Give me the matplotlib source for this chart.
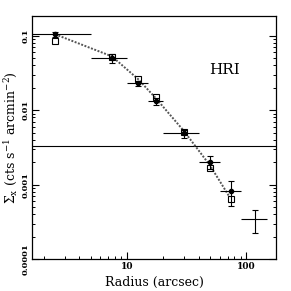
import matplotlib
matplotlib.use("Agg")
import matplotlib.pyplot as plt
import numpy as np

# surface brightness profile, HRI
radius = [2.5, 7.5, 12.5, 17.5, 30, 50, 75]
r_lo = [0.0, 5, 10, 15, 20, 40, 60]
r_hi = [5, 10, 15, 20, 40, 60, 90]
sb_filled = [0.105, 0.050, 0.023, 0.0133, 0.0049, 0.00204, 0.00082]
sb_filled_err = [0.008, 0.007, 0.002, 0.0015, 0.0006, 0.0004, 0.0003]
sb_open = [0.086, 0.052, 0.026, 0.0149, 0.0051, 0.00168, 0.00064]

# background point
bkg_r = [120]
bkg_lo = [90]
bkg_hi = [150]
bkg_sb = [0.00034]
bkg_err = [0.000116]
bkg_level = 0.0033

# model curve (dotted)
model_r = [2.5, 7.5, 12.5, 17.5, 30, 50, 72]
model_sb = [0.105, 0.053, 0.026, 0.0145, 0.0053, 0.0018, 0.00070]

plt.rcParams["font.family"] = "DejaVu Serif"
plt.rcParams["mathtext.fontset"] = "dejavuserif"

fig = plt.figure(figsize=(2.91, 2.91), dpi=100)
ax = fig.add_axes([0.110, 0.110, 0.838, 0.835])

r = np.array(radius, dtype=float)
lo = r - np.array(r_lo)
lo = np.where(np.array(r_lo) == 0, r - 1.0, lo)
hi = np.array(r_hi) - r

ax.axhline(bkg_level, color="black", lw=0.8)
ax.plot(model_r, model_sb, color="#555555", ls=(0, (1, 0.8)), lw=1.4)
# horizontal bins (no caps), vertical errors (capped)
ax.errorbar(radius, sb_filled, xerr=[lo, hi], fmt="none", color="black",
            elinewidth=0.8, capsize=0)
ax.errorbar(radius, sb_filled, yerr=sb_filled_err, fmt="o", color="black",
            ms=3, elinewidth=0.8, capsize=2, capthick=0.8)
ax.plot(radius, sb_open, "s", mfc="none", mec="black", ms=5, mew=0.8)
ax.errorbar(bkg_r, bkg_sb, xerr=[[bkg_r[0] - bkg_lo[0]], [bkg_hi[0] - bkg_r[0]]],
            fmt="none", color="black", elinewidth=0.8, capsize=0)
ax.errorbar(bkg_r, bkg_sb, yerr=bkg_err, fmt="none", color="black",
            elinewidth=0.8, capsize=2, capthick=0.8)

ax.set_xscale("log")
ax.set_yscale("log")
ax.set_xlim(1.6, 178)
ax.set_ylim(1e-4, 0.185)

ax.text(66, 0.0347, "HRI", fontsize=11, ha="center", va="center")

ax.set_xticks([10, 100])
ax.set_xticklabels(["10", "100"], fontsize=6.5, fontweight="bold")
ax.set_yticks([0.1, 0.01, 0.001, 0.0001])
ax.set_yticklabels(["0.1", "0.01", "0.001", "0.0001"], fontsize=6,
                   fontweight="bold", rotation=90, va="center")
ax.tick_params(which="both", direction="in", top=False, right=True)
ax.tick_params(which="major", length=5, width=0.8, pad=2)
ax.tick_params(which="minor", length=2.5, width=0.7)
for s in ax.spines.values():
    s.set_linewidth(0.9)

ax.set_xlabel("Radius (arcsec)", fontsize=9, labelpad=4)
ax.set_ylabel(r"$\Sigma_{\rm x}$ (cts s$^{-1}$ arcmin$^{-2}$)", fontsize=9,
              labelpad=1)

fig.savefig("out.png", dpi=100)
